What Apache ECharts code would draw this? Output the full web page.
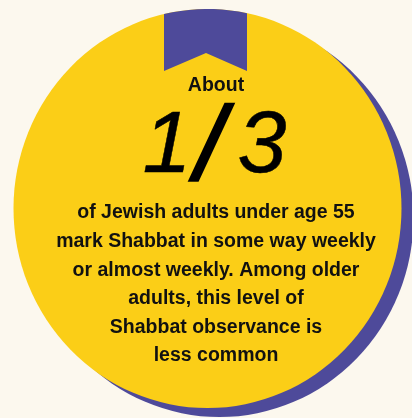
<!DOCTYPE html>
<html>
<head>
<meta charset="utf-8">
<script src="https://cdn.jsdelivr.net/npm/echarts@6/dist/echarts.min.js"></script>
<style>
  html, body { margin: 0; padding: 0; background: #fcf8ee; }
  #chart { width: 412px; height: 418px; }
</style>
</head>
<body>
<div id="chart"></div>
<script>
// texts of the callout
const leadText = ['About']
const statParts = ['1', '/', '3']
const bodyLines = [
  'of Jewish adults under age 55',
  'mark Shabbat in some way weekly',
  'or almost weekly. Among older',
  'adults, this level of',
  'Shabbat observance is',
  'less common'
]

const yellow = '#fbce17'
const purple = '#4e4a9a'

// disc geometry
const cx = 207.5
const cy = 208.5
const rx = 194
const ry = 199.5
const shadowDx = 12
const shadowDy = 9

// ribbon follows the top of the disc
function ribbonPoints() {
  const left = 164
  const right = 247
  const pts = []
  for (let i = 0; i <= 10; i++) {
    const x = left + (right - left) * i / 10
    const t = (x - cx) / rx
    pts.push([x, cy - ry * Math.sqrt(1 - t * t)])
  }
  pts.push([right, 71], [206, 53], [left, 71])
  return pts
}

// the big fraction is set glyph by glyph, spaced out like the hand lettering
const statX = [167, 210, 262]
const statY = [148, 150, 148]
const statSize = [88, 104, 88]
const statGlyphs = statParts.map((ch, i) => ({
  type: 'text',
  x: statX[i],
  y: statY[i],
  style: {
    text: ch,
    font: 'italic ' + statSize[i] + 'px "Liberation Sans Narrow", sans-serif',
    fill: '#000',
    stroke: '#000',
    lineWidth: i === 1 ? 2.5 : 0.5,
    align: 'center',
    verticalAlign: 'middle'
  }
}))

const chart = echarts.init(document.getElementById('chart'))
chart.setOption({
  backgroundColor: '#fcf8ee',
  animation: false,
  graphic: [
    {
      type: 'circle',
      x: cx + shadowDx,
      y: cy + shadowDy,
      scaleY: ry / rx,
      shape: { cx: 0, cy: 0, r: rx },
      style: { fill: purple }
    },
    {
      type: 'circle',
      x: cx,
      y: cy,
      scaleY: ry / rx,
      shape: { cx: 0, cy: 0, r: rx },
      style: { fill: yellow }
    },
    {
      type: 'polygon',
      shape: { points: ribbonPoints() },
      style: { fill: purple }
    },
    {
      type: 'text',
      x: 216,
      y: 86,
      style: {
        text: leadText[0],
        font: 'bold 19.5px "Liberation Sans Narrow", sans-serif',
        fill: '#111',
        align: 'center',
        verticalAlign: 'middle'
      }
    },
    ...statGlyphs,
    {
      type: 'text',
      x: 216,
      y: 284.5,
      style: {
        text: bodyLines.join('\n'),
        font: 'bold 19.5px "Liberation Sans Narrow", sans-serif',
        lineHeight: 28.6,
        fill: '#111',
        align: 'center',
        verticalAlign: 'middle'
      }
    }
  ]
})
</script>
</body>
</html>
